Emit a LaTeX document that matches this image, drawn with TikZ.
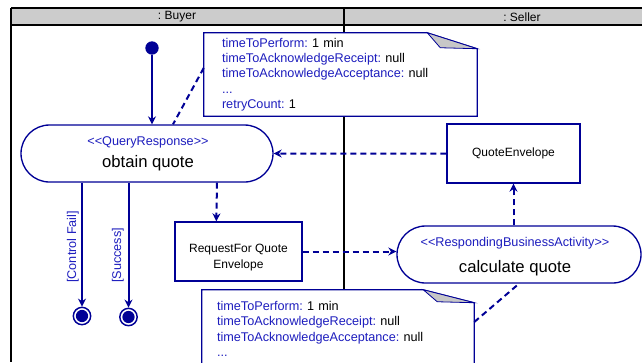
\documentclass[tikz,border=0pt]{standalone}
\usepackage{fontspec}
\setmainfont{Liberation Sans}
\usepackage{xcolor}
\usetikzlibrary{shapes.misc, arrows.meta}
\definecolor{umlblue}{RGB}{0,0,150}
\definecolor{keyblue}{RGB}{30,30,190}
\definecolor{headgray}{RGB}{204,204,204}
\frenchspacing

\begin{document}
\begin{tikzpicture}[
  x=0.75pt, y=-0.75pt,
  action/.style={rounded rectangle, draw=umlblue, line width=1pt, fill=white,
    minimum height=42.75pt, inner sep=0pt},
  objbox/.style={rectangle, draw=umlblue, line width=1pt, fill=white,
    minimum height=44.25pt, inner sep=0pt, align=center,
    font=\fontsize{9}{11}\selectfont},
  objtext/.style={align=center, inner sep=0pt, font=\fontsize{9}{11.5}\selectfont},
  initial/.style={circle, fill=umlblue, minimum size=10pt, inner sep=0pt},
  final/.style={circle, draw=umlblue, line width=1.1pt, minimum size=13pt,
    inner sep=0pt, fill=white,
    path picture={\fill[umlblue] (path picture bounding box.center) circle (4.6pt);}},
  note/.style={rectangle, fill=white, align=left,
    font=\fontsize{9.5}{11.5}\selectfont},
  noteline/.style={draw=umlblue, line width=0.8pt},
  flap/.style={draw=umlblue, line width=0.6pt, fill=black!22},
  stereo/.style={font=\fontsize{9.5}{11}\selectfont, text=keyblue, inner sep=0pt},
  actname/.style={font=\fontsize{12.5}{14}\selectfont, inner sep=0pt},
  guard/.style={font=\fontsize{9.5}{11}\selectfont, text=keyblue, rotate=90,
    anchor=south west, inner sep=0pt},
  lane/.style={font=\fontsize{9}{11}\selectfont, inner sep=0pt},
  flow/.style={draw=umlblue, line width=1.5pt, -{Stealth[length=6pt, width=6pt]}},
  objflow/.style={flow, dash pattern=on 4.5pt off 3pt},
  attach/.style={draw=umlblue, line width=1.5pt, dash pattern=on 4.5pt off 3pt}
]
  \clip (0,0) rectangle (642,362);

  % Swimlane frame.
  \fill[headgray] (11,8) rectangle (642,25);
  \draw[line width=1.2pt] (11,8) -- (642,8);
  \draw[line width=0.8pt] (11,25) -- (642,25);
  \draw[line width=0.8pt] (11,8) -- (11,362);
  \draw[line width=0.8pt] (344,8) -- (344,362);
  \node[lane] (buyer) at (177,17) {: Buyer};
  \node[lane] (seller) at (522,17) {: Seller};

  % Buyer side.
  \node[initial] (start) at (152,48) {};
  \node[action, minimum width=189pt] (obtain) at (147,153.5) {};
  \node[stereo] (obtainst) at (148,142) {<{}<QueryResponse>{}>};
  \node[actname] (obtainnm) at (148,163) {obtain quote};
  \node[objbox, minimum width=95.25pt] (rfq) at (238.5,251.5) {};
  \node[objtext] (rfqtext) at (238.5,257.5) {RequestFor Quote\\Envelope};
  \node[final] (fail) at (82,316) {};
  \node[final] (success) at (128.5,317) {};
  \node[guard] (failg) at (79,283) {[Control Fail]};
  \node[guard] (succg) at (124,283) {[Success]};

  % Seller side.
  \node[objbox, minimum width=99.75pt] (qenv) at (513.5,153.5) {QuoteEnvelope};
  \node[action, minimum width=183pt] (calc) at (519,254.5) {};
  \node[stereo] (calcst) at (515,243) {<{}<RespondingBusinessActivity>{}>};
  \node[actname] (calcnm) at (515,268) {calculate quote};

  % Notes with folded corner.
  \node[note, inner xsep=13.5pt, text width=177.75pt, minimum height=62.25pt]
    (qnote) at (340.5,74.5) {%
    \textcolor{keyblue}{timeToPerform:} 1 min\\
    \textcolor{keyblue}{timeToAcknowledgeReceipt:} null\\
    \textcolor{keyblue}{timeToAcknowledgeAcceptance:} null\\
    \textcolor{keyblue}{...}\\
    \textcolor{keyblue}{retryCount:} 1};
  \draw[noteline] (qnote.north west) -- ([xshift=-37.5pt]qnote.north east)
    -- ([yshift=-12pt]qnote.north east) -- (qnote.south east)
    -- (qnote.south west) -- cycle;
  \filldraw[flap] ([xshift=-37.5pt]qnote.north east)
    -- ([xshift=-27.75pt, yshift=-11.25pt]qnote.north east)
    -- ([yshift=-12pt]qnote.north east) -- cycle;

  \node[note, inner xsep=11.25pt, text width=181.5pt, minimum height=58.5pt]
    (cnote) at (338,329) {%
    \textcolor{keyblue}{timeToPerform:} 1 min\\
    \textcolor{keyblue}{timeToAcknowledgeReceipt:} null\\
    \textcolor{keyblue}{timeToAcknowledgeAcceptance:} null\\
    \textcolor{keyblue}{...}};
  \draw[noteline] (cnote.north west) -- ([xshift=-38.25pt]cnote.north east)
    -- ([yshift=-9.75pt]cnote.north east) -- (cnote.south east)
    -- (cnote.south west) -- cycle;
  \filldraw[flap] ([xshift=-38.25pt]cnote.north east)
    -- ([xshift=-27.75pt, yshift=-9pt]cnote.north east)
    -- ([yshift=-9.75pt]cnote.north east) -- cycle;

  % Control flows.
  \draw[flow] (start) -- (start |- obtain.north);
  \draw[flow] (fail |- obtain.south) -- (fail);
  \draw[flow] (success |- obtain.south) -- (success);

  % Object flows.
  \draw[objflow] ([xshift=52.5pt]obtain.south) -- ([xshift=31.5pt]rfq.north west);
  \draw[objflow] (rfq.east) -- (calc.west |- rfq.east);
  \draw[objflow] (qenv.south |- calc.north) -- (qenv.south);
  \draw[objflow] (qenv) -- (obtain);

  % Note anchors.
  \draw[attach] ([yshift=4.9pt]qnote.west) -- ([xshift=19.5pt]obtain.north);
  \draw[attach] ([yshift=5.25pt]cnote.east) -- (calc.south);
\end{tikzpicture}
\end{document}
